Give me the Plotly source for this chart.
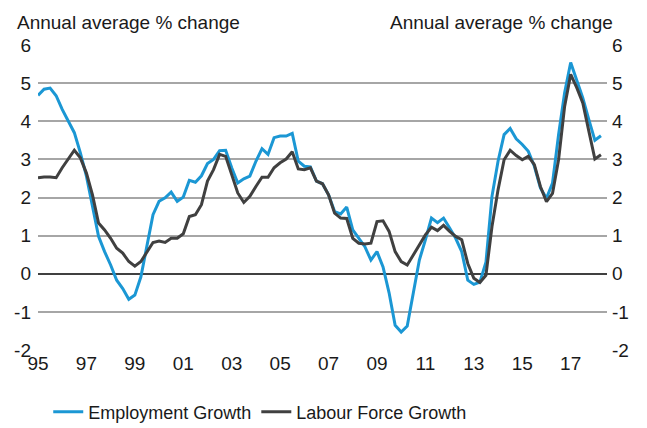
import plotly.graph_objects as go

# Quarterly data, 1995Q1 onwards
employment_growth = [
    4.68, 4.84, 4.87, 4.67, 4.31, 4.00, 3.70, 3.17, 2.56, 1.77,
    0.98, 0.58, 0.23, -0.17, -0.39, -0.67, -0.56, -0.08, 0.71, 1.55,
    1.90, 1.99, 2.14, 1.90, 2.01, 2.45, 2.40, 2.57, 2.89, 3.00,
    3.23, 3.24, 2.78, 2.38, 2.49, 2.56, 2.95, 3.28, 3.13, 3.57,
    3.61, 3.61, 3.68, 2.95, 2.82, 2.80, 2.43, 2.36, 2.07, 1.63,
    1.57, 1.75, 1.15, 0.93, 0.71, 0.36, 0.58, 0.18, -0.50, -1.35,
    -1.53, -1.37, -0.52, 0.36, 0.89, 1.46, 1.34, 1.46, 1.20, 0.93,
    0.58, -0.17, -0.28, -0.22, 0.30, 2.03, 2.95, 3.65, 3.81, 3.54,
    3.39, 3.21, 2.82, 2.25, 1.98, 2.38, 3.65, 4.75, 5.54, 5.10,
    4.61, 4.04, 3.50, 3.62,
]
labour_force_growth = [
    2.52, 2.54, 2.54, 2.52, 2.78, 3.00, 3.24, 3.04, 2.64, 2.07,
    1.33, 1.15, 0.93, 0.67, 0.54, 0.32, 0.20, 0.32, 0.58, 0.82,
    0.86, 0.82, 0.93, 0.93, 1.05, 1.50, 1.55, 1.81, 2.43, 2.73,
    3.13, 3.08, 2.60, 2.12, 1.87, 2.03, 2.29, 2.53, 2.53, 2.78,
    2.91, 3.01, 3.20, 2.75, 2.73, 2.78, 2.43, 2.36, 2.07, 1.59,
    1.46, 1.45, 0.93, 0.80, 0.78, 0.80, 1.37, 1.39, 1.11, 0.58,
    0.32, 0.23, 0.49, 0.76, 1.02, 1.22, 1.13, 1.27, 1.11, 0.98,
    0.89, 0.27, -0.12, -0.23, -0.04, 1.24, 2.20, 2.99, 3.24, 3.10,
    2.99, 3.08, 2.86, 2.29, 1.89, 2.11, 2.99, 4.39, 5.23, 4.88,
    4.48, 3.74, 3.01, 3.12,
]
start_year = 1995
quarters = [start_year + q / 4 for q in range(len(employment_growth))]

x_tick_vals = [1995, 1997, 1999, 2001, 2003, 2005, 2007, 2009, 2011, 2013, 2015, 2017]
x_tick_text = ["95", "97", "99", "01", "03", "05", "07", "09", "11", "13", "15", "17"]
y_tick_vals = [-2, -1, 0, 1, 2, 3, 4, 5, 6]
y_tick_text = ["-2", "-1", "0", "1", "2", "3", "4", "5", "6"]
y_title = "Annual average % change"

FONT = "Liberation Sans, Arial, sans-serif"

fig = go.Figure()
fig.add_trace(go.Scatter(x=quarters, y=employment_growth, mode="lines",
                         name="Employment Growth",
                         line=dict(color="#1b97d4", width=3)))
fig.add_trace(go.Scatter(x=quarters, y=labour_force_growth, mode="lines",
                         name="Labour Force Growth",
                         line=dict(color="#404040", width=3)))
# empty helper trace so the right-hand axis is drawn
fig.add_trace(go.Scatter(x=[None], y=[None], yaxis="y2", showlegend=False,
                         hoverinfo="skip", mode="lines"))

fig.update_layout(
    width=647, height=428,
    margin=dict(l=38, r=40, t=45, b=78, autoexpand=False),
    paper_bgcolor="white", plot_bgcolor="white",
    font=dict(family=FONT, size=18, color="#1a1a1a"),
    showlegend=True,
    legend=dict(orientation="h", x=0.018, xanchor="left",
                yref="container", y=0.037, yanchor="middle",
                font=dict(size=18), bgcolor="rgba(0,0,0,0)"),
    xaxis=dict(range=[1995, 2018.5], tickvals=x_tick_vals, ticktext=x_tick_text,
               showgrid=False, zeroline=False, showline=False, ticks="",
               tickfont=dict(size=19), automargin=False),
    yaxis=dict(range=[-2, 6], tickvals=y_tick_vals, ticktext=y_tick_text,
               showgrid=True, gridcolor="#a6a6a6", gridwidth=1.5,
               zeroline=True, zerolinecolor="#404040", zerolinewidth=2,
               showline=False, ticks="", tickfont=dict(size=19),
               ticklabelstandoff=6, automargin=False),
    yaxis2=dict(range=[-2, 6], tickvals=y_tick_vals, ticktext=y_tick_text,
                overlaying="y", side="right",
                showgrid=False, zeroline=False, showline=False, ticks="",
                tickfont=dict(size=19), ticklabelstandoff=4, automargin=False),
    annotations=[
        dict(text=y_title, xref="paper", yref="paper", x=-0.04, y=1.0,
             xanchor="left", yanchor="bottom", yshift=10, showarrow=False,
             font=dict(size=19)),
        dict(text=y_title, xref="paper", yref="paper", x=1.014, y=1.0,
             xanchor="right", yanchor="bottom", yshift=10, showarrow=False,
             font=dict(size=19)),
    ],
)

fig.write_html("out.html",
               config={"displayModeBar": False},
               post_script="document.body.style.margin='0px';document.body.style.overflow='hidden';")
